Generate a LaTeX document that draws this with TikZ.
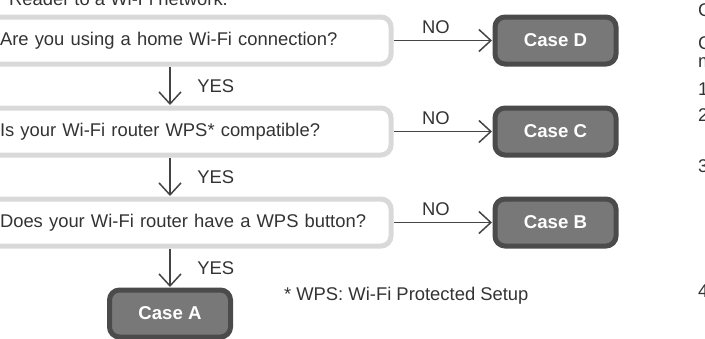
\documentclass[tikz,border=0pt]{standalone}
\usepackage{fontspec}
\setmainfont{Liberation Sans}
\usetikzlibrary{arrows.meta,positioning}
\definecolor{qline}{HTML}{D9D9D9}
\definecolor{casefill}{HTML}{787878}
\definecolor{caseline}{HTML}{4B4B4B}
\definecolor{ink}{HTML}{333333}
\definecolor{arrowgray}{HTML}{444444}

\begin{document}
\begin{tikzpicture}[x=0.5pt, y=-0.5pt, node distance=22pt and 52pt, font=\fontsize{9.2}{11}\selectfont, text=ink]
    \tikzset{
        q/.style        =   { rectangle
                            , rounded corners=5pt
                            , draw=qline
                            , line width=2.5pt
                            , outer sep=0pt
                            , minimum width=221pt
                            , minimum height=23.5pt
                            , text width=170pt
                            , inner xsep=25.5pt
                            , align=left
        }
        , case/.style   =   { rectangle
                            , rounded corners=5pt
                            , draw=caseline
                            , fill=casefill
                            , line width=2.5pt
                            , outer sep=0pt
                            , minimum width=60.5pt
                            , minimum height=23.5pt
                            , text=white
                            , font=\fontsize{9.3}{11}\selectfont\bfseries
        }
        , arrow/.style  =   { draw=arrowgray
                            , line width=0.75pt
                            , -{Straight Barb[length=6pt,width=11pt]}
                            , shorten >= 1.5pt
                            , shorten <= 1.5pt
        }
    }
    \useasboundingbox (0,0) rectangle (705,338);
    \clip (0,0) rectangle (705,338);

    \node(intro)[anchor=base west] at (2,5) {Reader to a Wi-Fi network.};
    \node(q1)[q] at (170,40.5) {Are you using a home Wi-Fi connection?};
    \node(q2)[q, below=of q1] {Is your Wi-Fi router WPS* compatible?};
    \node(q3)[q, below=of q2] {\mbox{Does your Wi-Fi router have a WPS button?}};
    \node(caseD)[case, right=of q1] {Case D};
    \node(caseC)[case, right=of q2] {Case C};
    \node(caseB)[case, right=of q3] {Case B};
    \node(caseA)[case, below=of q3] {Case A};
    \node(wps)[anchor=west] at (277,296) {* WPS: Wi-Fi Protected Setup};

    % next column, cut off by the page edge
    \foreach \c/\y [count=\i] in {C/16.5, C/49.5, m/67, 1/95.5, 2/121, 3/172.5, 4/297.5}
        \node(edge\i)[anchor=base west] at (691,\y) {\c};

    \draw[arrow] (q1) -- node[right=10pt] {YES} (q2);
    \draw[arrow] (q2) -- node[right=10pt] {YES} (q3);
    \draw[arrow] (q3) -- node[right=10pt] {YES} (caseA);
    \draw[arrow] (q1) -- node[above=-0.5pt, xshift=-3.5pt] {NO} (caseD);
    \draw[arrow] (q2) -- node[above=-0.5pt, xshift=-3.5pt] {NO} (caseC);
    \draw[arrow] (q3) -- node[above=-0.5pt, xshift=-3.5pt] {NO} (caseB);
\end{tikzpicture}
\end{document}
